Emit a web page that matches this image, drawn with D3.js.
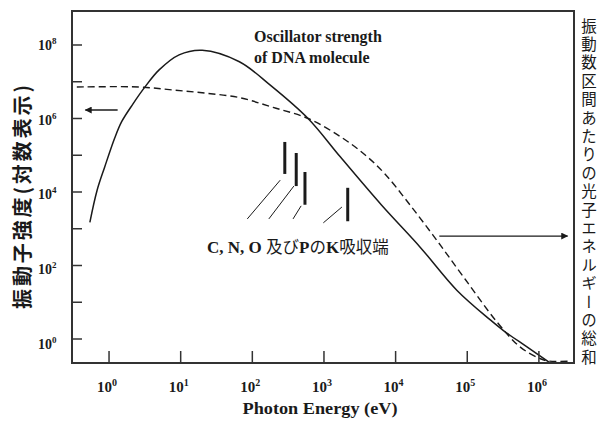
<!DOCTYPE html>
<html><head><meta charset="utf-8">
<script src="https://cdn.jsdelivr.net/npm/d3@7"></script>
<style>
html,body{margin:0;padding:0;background:#fff;}
svg{display:block;}
.serif{font-family:"Liberation Serif","Times New Roman",serif;font-weight:bold;}
.cjk{font-family:"Noto Sans CJK JP",sans-serif;}
</style>
</head><body>
<script>
// ---- data ----
const xTickExps = [0, 1, 2, 3, 4, 5, 6];
const yMajorExps = [0, 2, 4, 6, 8];
const yMinorExps = [1, 3, 5, 7];

// oscillator strength of DNA (solid)
const solidEnergy = [0.54, 0.68, 0.87, 1.2, 1.5, 2.16, 3.1, 5.0, 9.5, 20, 66, 178, 600, 1700, 6300, 2.2e4, 7.2e4, 2.1e5, 3.2e5, 6.9e5, 1.45e6];
const solidValue  = [1.5e3, 1.1e4, 4.8e4, 2.95e5, 8.2e5, 2.5e6, 6.8e6, 2.1e7, 5.4e7, 7.2e7, 3.5e7, 8.1e6, 1.0e6, 8.9e4, 4.5e3, 316, 21, 3.3, 1.7, 0.6, 0.22];

// photon energy sum per frequency interval (dashed)
const dashEnergy = [0.355, 2.6, 7.6, 22, 66, 195, 600, 1700, 3800, 7100, 1.58e4, 3.8e4, 9.3e4, 2.6e5, 5.5e5, 1.05e6, 1.4e6, 2.8e6];
const dashValue  = [7.2e6, 7.2e6, 6.0e6, 4.9e6, 3.7e6, 2.0e6, 1.0e6, 3.2e5, 1.0e5, 3.1e4, 4.5e3, 470, 43, 2.9, 0.6, 0.29, 0.25, 0.25];

// K absorption edges of C, N, O, P
const edgeNames  = ["C", "N", "O", "P"];
const edgeEnergy = [284, 410, 543, 2146];
const edgeTop    = [2.3e5, 1.15e5, 3.5e4, 1.3e4];
const edgeBottom = [3.1e4, 1.45e4, 4.5e3, 1.6e3];
// leader lines in data units
const leaderFromE = [245, 380, 480, 1780];
const leaderFromV = [2.1e4, 1.45e4, 4.2e3, 3.9e3];
const leaderToE   = [85, 170, 370, 980];
const leaderToV   = [1.85e3, 1.85e3, 1.85e3, 1.45e3];

const rightTitle = "振動数区間あたりの光子エネルギーの総和";

// ---- layout ----
const W = 599, H = 421;
const L = 72, T = 11, R = 574, B = 363;
const svg = d3.select("body").append("svg").attr("width", W).attr("height", H);

const x = d3.scaleLog().domain([Math.pow(10, -0.517), Math.pow(10, 6.49)]).range([L, R]);
const y = d3.scaleLog().domain([Math.pow(10, -0.653), Math.pow(10, 8.925)]).range([B, T]);

const ink = "#1a1a1a";

svg.append("defs").append("clipPath").attr("id", "clip")
  .append("rect").attr("x", L).attr("y", T).attr("width", R - L).attr("height", B - T);
const mk = svg.select("defs").append("marker").attr("id", "arr")
  .attr("viewBox", "0 0 10 10").attr("refX", 9).attr("refY", 5)
  .attr("markerWidth", 9).attr("markerHeight", 7).attr("markerUnits", "userSpaceOnUse")
  .attr("orient", "auto");
mk.append("path").attr("d", "M0,0 L10,5 L0,10 z").attr("fill", ink);

// curves
const line = d3.line().x(d => x(d[0])).y(d => y(d[1])).curve(d3.curveCatmullRom.alpha(0.5));
const g = svg.append("g").attr("clip-path", "url(#clip)");
g.append("path").datum(d3.zip(dashEnergy, dashValue)).attr("d", line)
  .attr("fill", "none").attr("stroke", ink).attr("stroke-width", 1.4).attr("stroke-dasharray", "7,4");
g.append("path").datum(d3.zip(solidEnergy, solidValue)).attr("d", line)
  .attr("fill", "none").attr("stroke", ink).attr("stroke-width", 1.5);

// frame
svg.append("rect").attr("x", L).attr("y", T).attr("width", R - L).attr("height", B - T)
  .attr("fill", "none").attr("stroke", "#333").attr("stroke-width", 2);

// x ticks (inward)
const xt = xTickExps.map(e => Math.pow(10, e));
svg.append("g").selectAll("line").data(xt).join("line")
  .attr("x1", d => x(d)).attr("x2", d => x(d)).attr("y1", B).attr("y2", B - 12)
  .attr("stroke", "#333").attr("stroke-width", 1.5);
const xl = svg.append("g").selectAll("text").data(xTickExps).join("text")
  .attr("class", "serif").attr("font-size", 15).attr("text-anchor", "middle")
  .attr("x", e => x(Math.pow(10, e)) - 2).attr("y", 392).attr("fill", ink);
xl.append("tspan").text("10");
xl.append("tspan").text(e => e).attr("font-size", 10).attr("dy", -6);

// y ticks (inward)
const yAll = yMajorExps.concat(yMinorExps).map(e => Math.pow(10, e));
svg.append("g").selectAll("line").data(yAll).join("line")
  .attr("x1", L).attr("x2", L + 10).attr("y1", d => y(d)).attr("y2", d => y(d))
  .attr("stroke", "#333").attr("stroke-width", 1.5);
const yl = svg.append("g").selectAll("text").data(yMajorExps).join("text")
  .attr("class", "serif").attr("font-size", 14).attr("text-anchor", "start")
  .attr("x", 38).attr("y", e => y(Math.pow(10, e)) + 5 + (8 - e) * 0.6).attr("fill", ink);
yl.append("tspan").text("10");
yl.append("tspan").text(e => e).attr("font-size", 9).attr("dy", -6);

// axis titles
svg.append("text").attr("class", "serif").attr("font-size", 16).attr("text-anchor", "middle")
  .attr("x", 320).attr("y", 414).attr("fill", ink)
  .attr("textLength", 155).attr("lengthAdjust", "spacingAndGlyphs")
  .text("Photon Energy (eV)");
svg.append("text").attr("class", "cjk").attr("font-size", 20).attr("font-weight", "bold")
  .attr("text-anchor", "middle").attr("fill", ink)
  .attr("transform", "translate(30,197) rotate(-90)")
  .attr("textLength", 224).attr("lengthAdjust", "spacing")
  .text("振動子強度(対数表示)");
// right title: vertical writing
svg.append("text").attr("class", "cjk").attr("font-size", 15.5).attr("fill", ink)
  .attr("x", 589).attr("y", 18)
  .style("writing-mode", "vertical-rl").style("letter-spacing", "2.9px")
  .text(rightTitle);

// curve label
const lab = svg.append("text").attr("class", "serif").attr("font-size", 16).attr("fill", ink);
lab.append("tspan").attr("x", 254).attr("y", 42).text("Oscillator strength");
lab.append("tspan").attr("x", 254).attr("y", 63).text("of DNA molecule");

// arrows
svg.append("line").attr("x1", x(Math.pow(10, 0.12))).attr("x2", x(Math.pow(10, -0.33)))
  .attr("y1", y(Math.pow(10, 6.23))).attr("y2", y(Math.pow(10, 6.23)))
  .attr("stroke", ink).attr("stroke-width", 1.4).attr("marker-end", "url(#arr)");
svg.append("line").attr("x1", x(Math.pow(10, 4.61))).attr("x2", x(Math.pow(10, 6.40)))
  .attr("y1", y(Math.pow(10, 2.80))).attr("y2", y(Math.pow(10, 2.80)))
  .attr("stroke", ink).attr("stroke-width", 1.4).attr("marker-end", "url(#arr)");

// K-edge bars
svg.append("g").selectAll("line").data(edgeEnergy).join("line")
  .attr("x1", d => x(d)).attr("x2", d => x(d))
  .attr("y1", (d, i) => y(edgeTop[i])).attr("y2", (d, i) => y(edgeBottom[i]))
  .attr("stroke", ink).attr("stroke-width", 3);
svg.append("g").selectAll("line").data(leaderFromE).join("line")
  .attr("x1", d => x(d)).attr("y1", (d, i) => y(leaderFromV[i]))
  .attr("x2", (d, i) => x(leaderToE[i])).attr("y2", (d, i) => y(leaderToV[i]))
  .attr("stroke", ink).attr("stroke-width", 1);

const kl = svg.append("text").attr("x", 207).attr("y", 253).attr("font-size", 17).attr("fill", ink);
kl.append("tspan").attr("class", "serif").text(edgeNames.slice(0, 3).join(", ") + " ");
kl.append("tspan").attr("class", "cjk").attr("font-size", 16.5).text("及び");
kl.append("tspan").attr("class", "serif").text(edgeNames[3]);
kl.append("tspan").attr("class", "cjk").attr("font-size", 16.5).text("の");
kl.append("tspan").attr("class", "serif").text("K");
kl.append("tspan").attr("class", "cjk").attr("font-size", 16.5).text("吸収端");
</script>
</body></html>
